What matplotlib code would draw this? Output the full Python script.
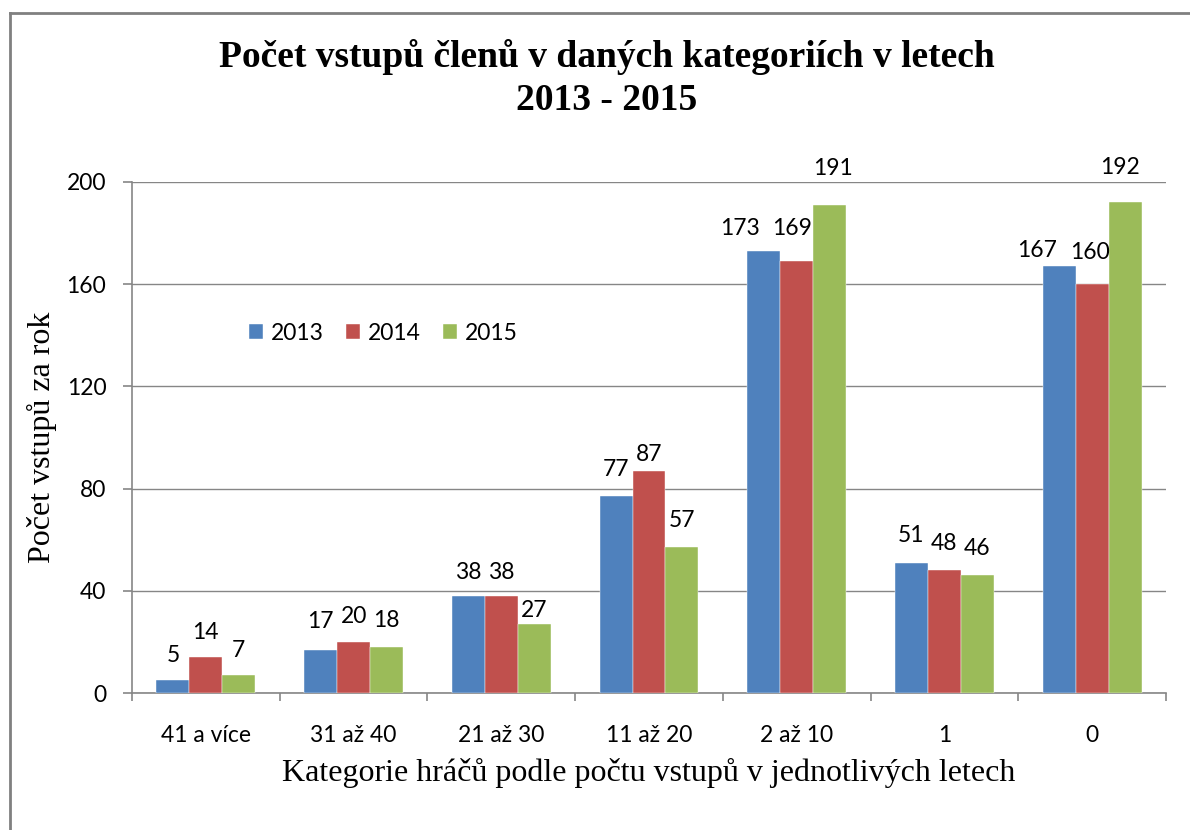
import matplotlib
matplotlib.use("Agg")
import matplotlib.pyplot as plt
import numpy as np
from matplotlib.lines import Line2D

# ---- data ----
categories = ["41 a více", "31 až 40", "21 až 30", "11 až 20", "2 až 10", "1", "0"]
years = ["2013", "2014", "2015"]
v2013 = [5, 17, 38, 77, 173, 51, 167]
v2014 = [14, 20, 38, 87, 169, 48, 160]
v2015 = [7, 18, 27, 57, 191, 46, 192]
yticks = [0, 40, 80, 120, 160, 200]

title_line1 = "Počet vstupů členů v daných kategoriích v letech"
title_line2 = "2013 - 2015"
xlabel = "Kategorie hráčů podle počtu vstupů v jednotlivých letech"
ylabel = "Počet vstupů za rok"

# label placement offsets (pixels) as in the reference
lab_dy = [[25, 28, 23, 27, 22, 27, 16],
          [25, 25, 23, 16, 33, 27, 32],
          [25, 27, 14, 27, 36, 27, 35]]
lab_dx = [[0, 0, 0, 0, -24, 0, -22],
          [0, 0, 0, 0, -5, 0, -2],
          [0, 0, 0, 0, 3, 0, -5]]

colors = ["#4F81BD", "#C0504D", "#9BBB59"]
grid_c = "#868686"
sans = ["Lato", "DejaVu Sans"]
serif = ["Liberation Serif", "DejaVu Serif"]
fs = 16.5

W, H = 1190, 830
fig = plt.figure(figsize=(W / 100, H / 100), dpi=100)
fig.patch.set_facecolor("white")
ax = fig.add_axes([132 / W, 1 - 693 / H, (1166 - 132) / W, (693 - 182) / H])

series = [v2013, v2014, v2015]
x = np.arange(len(categories))
bw = 0.223
for i, (vals, col, yr) in enumerate(zip(series, colors, years)):
    xs = x + (i - 1) * bw
    ax.bar(xs, vals, width=bw, color=col, label=yr, zorder=3,
           edgecolor="white", linewidth=0.3)
    for j, (xx, v) in enumerate(zip(xs, vals)):
        ax.annotate(str(v), (xx, v), xytext=(lab_dx[i][j], lab_dy[i][j]),
                    textcoords="offset pixels", ha="center", va="center",
                    fontsize=fs, family=sans, color="black", zorder=4)

ax.set_xlim(-0.5, len(categories) - 0.5)
ax.set_ylim(0, 200)
ax.set_yticks(yticks)
ax.set_yticklabels([str(t) for t in yticks], family=sans, fontsize=fs)
ax.set_xticks(x)
ax.set_xticklabels(categories, family=sans, fontsize=fs)
ax.set_xticks(np.arange(len(categories) + 1) - 0.5, minor=True)
ax.tick_params(axis="x", which="major", length=0, pad=23)
ax.tick_params(axis="x", which="minor", length=6, width=1.2, color=grid_c, direction="out")
ax.tick_params(axis="y", which="major", length=6.5, width=1.2, color=grid_c, pad=12)

ax.grid(axis="y", color=grid_c, linewidth=1.0, zorder=0)
ax.set_axisbelow(True)
for s in ["top", "right"]:
    ax.spines[s].set_visible(False)
for s in ["left", "bottom"]:
    ax.spines[s].set_color(grid_c)
    ax.spines[s].set_linewidth(1.2)

# axis titles
fig.text(649 / W, 1 - 773 / H, xlabel, ha="center", va="center",
         family=serif, fontsize=23)
fig.text(42 / W, 1 - 437 / H, ylabel, ha="center", va="center",
         rotation=90, family=serif, fontsize=23)

# title
fig.text(607 / W, 1 - 57 / H, title_line1, ha="center", va="center",
         family=serif, fontsize=27, fontweight="bold")
fig.text(607 / W, 1 - 100 / H, title_line2, ha="center", va="center",
         family=serif, fontsize=27, fontweight="bold")

# legend
leg = ax.legend(loc="center left", bbox_to_anchor=((249 - 132) / 1034, (693 - 333) / 511),
                ncol=3, frameon=False, handlelength=0.62, handleheight=0.62,
                handletextpad=0.35, columnspacing=0.95, borderpad=0, borderaxespad=0,
                prop={"family": sans, "size": fs})

# chart-area border (top & left visible)
fig.add_artist(Line2D([10 / W, 10 / W], [0, 1 - 13 / H], transform=fig.transFigure,
                      color="#808080", linewidth=2))
fig.add_artist(Line2D([10 / W, 1], [1 - 13 / H, 1 - 13 / H], transform=fig.transFigure,
                      color="#808080", linewidth=2))

fig.savefig("out.png", dpi=100, facecolor="white")
